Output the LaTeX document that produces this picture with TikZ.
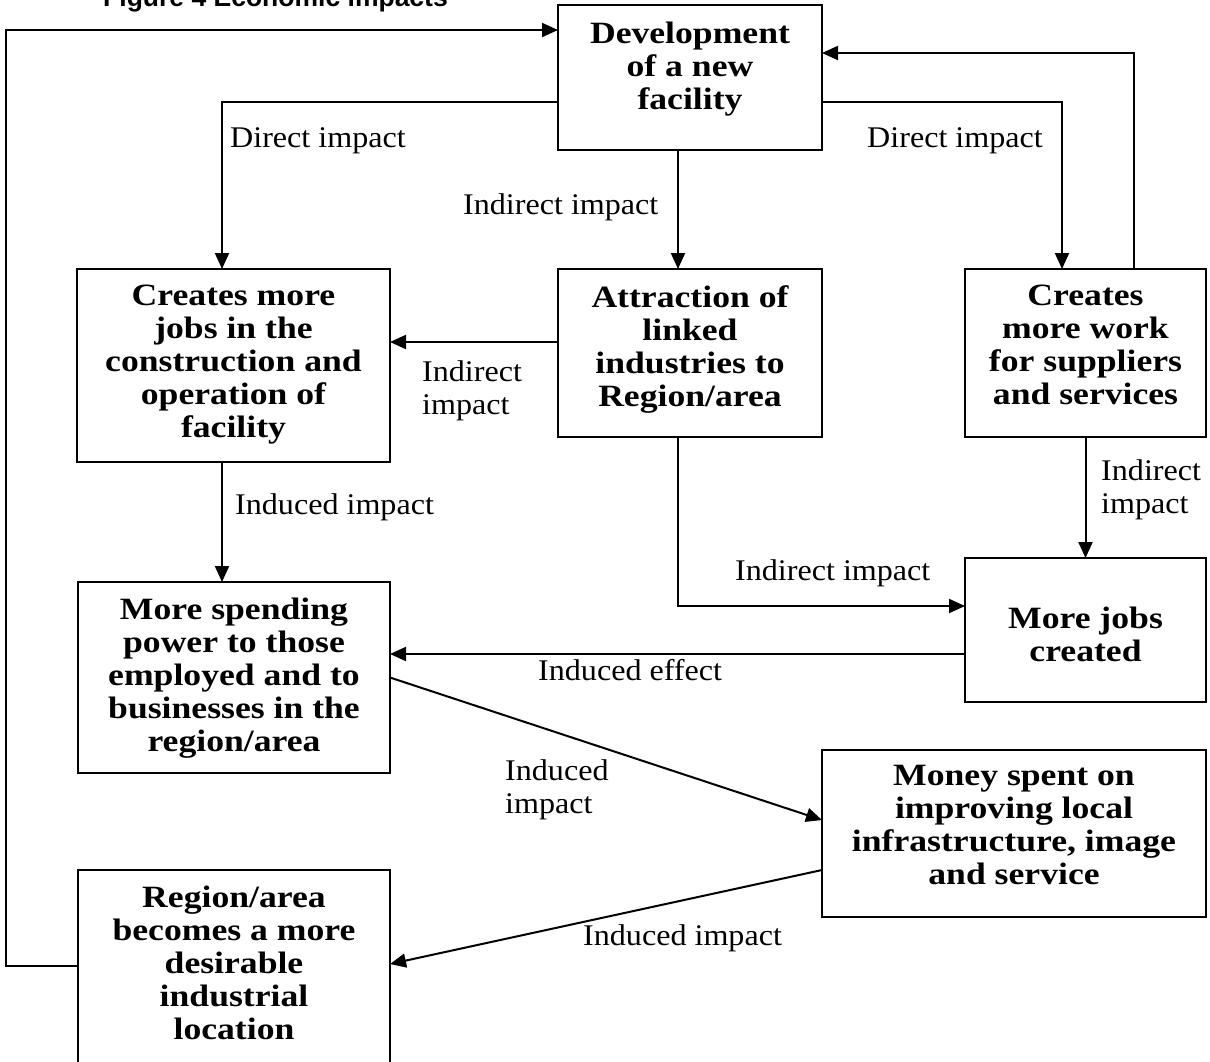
\documentclass[tikz,border=0pt]{standalone}
\usepackage{fontspec}
\setmainfont{Liberation Serif}[FakeStretch=1.07, BoldFeatures={FakeStretch=1.15}]
\newfontfamily\titlefont{Liberation Sans}
\usetikzlibrary{arrows.meta}
\begin{document}
\begin{tikzpicture}[x=1pt,y=-1pt,
  box/.style={draw, line width=2pt, inner sep=0pt, outer sep=0pt},
  boxtext/.style={font=\bfseries\fontsize{31}{33}\selectfont, align=center, inner sep=0pt, anchor=north},
  lbl/.style={font=\fontsize{30}{33}\selectfont, align=left, inner sep=0pt},
  arr/.style={line width=2pt, -{Triangle[length=16pt,width=14pt]}}]
\useasboundingbox (0,0) rectangle (1210,1061);
\clip (0,0) rectangle (1210,1061);

% title
\node[font=\titlefont\bfseries\fontsize{26.5}{30}\selectfont, anchor=base west, inner sep=0pt] (title) at (103,6) {Figure 4 Economic impacts};

% boxes
\node[box, minimum width=264pt, minimum height=145pt] (A) at (690,77.5) {};
\node[box, minimum width=313pt, minimum height=193pt] (B) at (233.5,365.5) {};
\node[box, minimum width=264pt, minimum height=168pt] (C) at (690,353) {};
\node[box, minimum width=241pt, minimum height=168pt] (D) at (1085.5,353) {};
\node[box, minimum width=241pt, minimum height=144pt] (E) at (1085.5,630) {};
\node[box, minimum width=312pt, minimum height=191pt] (F) at (234,677.5) {};
\node[box, minimum width=384pt, minimum height=167pt] (G) at (1014,833.5) {};
\node[box, minimum width=312pt, minimum height=200pt] (H) at (234,970) {};

% box texts
\node[boxtext] (At) at (690,22) {Development\\of a new\\facility};
\node[boxtext] (Bt) at (233.5,285) {Creates more\\jobs in the\\construction and\\operation of\\facility};
\node[boxtext] (Ct) at (690,285) {Attraction of\\linked\\industries to\\Region/area};
\node[boxtext] (Dt) at (1085.5,285) {Creates\\more work\\for suppliers\\and services};
\node[boxtext] (Et) at (1085.5,607) {More jobs\\created};
\node[boxtext] (Ft) at (234,598) {More spending\\power to those\\employed and to\\businesses in the\\region/area};
\node[boxtext] (Gt) at (1014,765) {Money spent on\\improving local\\infrastructure, image\\and service};
\node[boxtext] (Ht) at (234,886) {Region/area\\becomes a more\\desirable\\industrial\\location};

% connectors
\draw[arr] ([yshift=-24.5pt]A.west) -| ([xshift=-11.5pt]B.north);
\draw[arr] ([yshift=-24.5pt]A.east) -| ([xshift=-23.5pt]D.north);
\draw[arr] ([xshift=-12pt]A.south) -- ([xshift=-12pt]C.north);
\draw[arr] ([xshift=48.5pt]D.north) |- ([yshift=24.5pt]A.east);
\draw[arr] ([yshift=4pt]H.west) -- ++(-72,0) |- ([yshift=47.5pt]A.west);
\draw[arr] ([yshift=11pt]C.west) -- ([yshift=11pt]C.west -| B.east);
\draw[arr] ([xshift=-11.5pt]B.south) -- ([xshift=-12pt]F.north);
\draw[arr] ([xshift=-12pt]C.south) |- ([yshift=24pt]E.west);
\draw[arr] (D.south) -- (E.north);
\draw[arr] ([yshift=-24pt]E.west) -- ([yshift=-24pt]E.west -| F.east);
\draw[arr] (F.east) -- ([yshift=13.5pt]G.west);
\draw[arr] ([yshift=-36.5pt]G.west) -- ([yshift=6pt]H.east);

% labels
\node[lbl, anchor=base west] (l1) at (230,147) {Direct impact};
\node[lbl, anchor=base west] (l2) at (867,147) {Direct impact};
\node[lbl, anchor=base west] (l3) at (463,214) {Indirect impact};
\node[lbl, anchor=north west] (l4) at (422,360.5) {Indirect\\impact};
\node[lbl, anchor=base west] (l5) at (235,514) {Induced impact};
\node[lbl, anchor=north west] (l6) at (1101,459.5) {Indirect\\impact};
\node[lbl, anchor=base west] (l7) at (735,580) {Indirect impact};
\node[lbl, anchor=base west] (l8) at (538,680) {Induced effect};
\node[lbl, anchor=north west] (l9) at (505,759.5) {Induced\\impact};
\node[lbl, anchor=base west] (l10) at (583,945) {Induced impact};
\end{tikzpicture}
\end{document}
